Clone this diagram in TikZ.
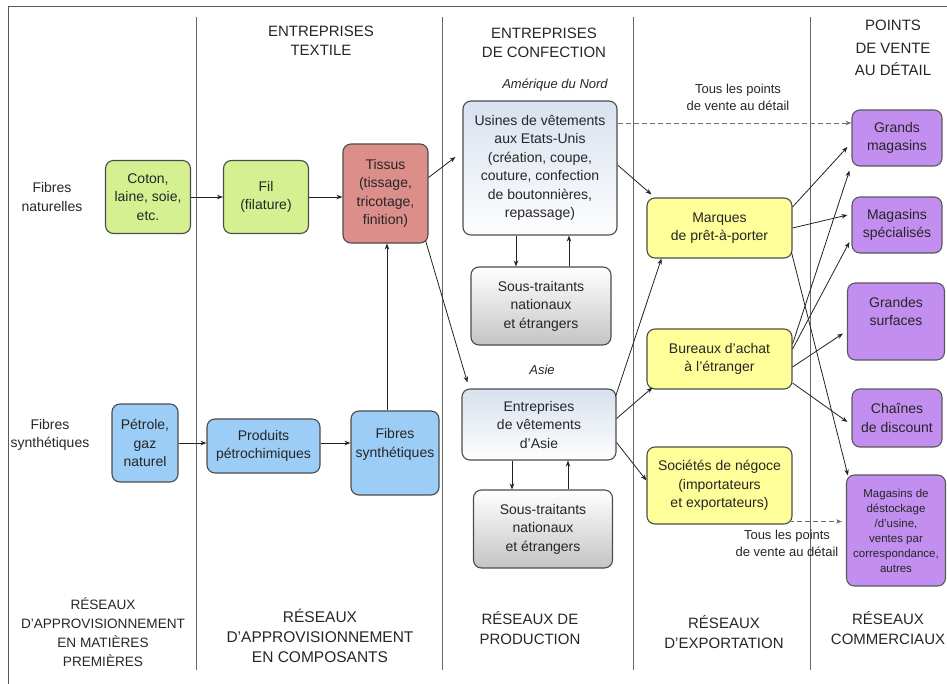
\documentclass[tikz,border=0pt]{standalone}
\usepackage{fontspec}
\setmainfont{Liberation Sans}
\usetikzlibrary{arrows.meta,calc}
\newcommand\myfs[2]{\fontsize{#1bp}{#2bp}\selectfont}
\definecolor{cgreen}{HTML}{D4F091}
\definecolor{cred}{HTML}{DC8E8A}
\definecolor{cblue}{HTML}{9CCDF7}
\definecolor{cpurple}{HTML}{C28FF0}
\definecolor{cyellow}{HTML}{FFFF99}
\definecolor{cgraybot}{HTML}{C4C4C4}
\definecolor{cbluetop}{HTML}{D8E1EE}
\definecolor{ctext}{HTML}{262626}
\definecolor{cline}{HTML}{222222}
\tikzset{
  box/.style={draw=black!70, line width=1.1bp, rounded corners=8bp, align=center,
    text=ctext, inner sep=2bp, font=\myfs{14}{18.5}},
  greenbox/.style={box, fill=cgreen},
  redbox/.style={box, fill=cred},
  bluebox/.style={box, fill=cblue},
  purplebox/.style={box, fill=cpurple, draw=black!65},
  yellowbox/.style={box, fill=cyellow},
  graybox/.style={box, top color=white, bottom color=cgraybot},
  factbox/.style={box, top color=cbluetop, bottom color=white!97!cbluetop},
  lbl/.style={align=center, text=ctext, inner sep=0pt, font=\myfs{14}{18.5}},
  hdr/.style={align=center, text=ctext, inner sep=0pt, font=\myfs{15}{19.5}},
  arr/.style={draw=cline, line width=0.8bp, -{Stealth[length=6bp,width=4.5bp]}},
  darr/.style={draw=black!55, line width=0.8bp, dashed, dash pattern=on 5bp off 3bp, -{Stealth[length=6bp,width=4.5bp]}},
  divider/.style={draw=black!60, line width=0.8bp}
}
\begin{document}
\begin{tikzpicture}[x=1bp,y=-1bp]
\useasboundingbox (0,0) rectangle (947,684);
% frame
\draw[draw=black!65, line width=1bp] (947,7) -- (8,7) -- (8,684);
% dividers
\foreach \xx in {196,442,633,810} \draw[divider] (\xx,17) -- (\xx,670);

% headers
\node[hdr] (h2) at (321,41) {ENTREPRISES\\TEXTILE};
\node[hdr] (h3) at (544,43) {ENTREPRISES\\DE CONFECTION};
\node[hdr, font=\myfs{15}{22.5}] (h5) at (893,48) {POINTS\\DE VENTE\\AU DÉTAIL};
\node[lbl, font=\itshape\myfs{13}{16}] (amn) at (555,85) {Amérique du Nord};
\node[lbl, font=\myfs{13}{17}] (tous1) at (738,97) {Tous les points\\de vente au détail};
\node[lbl, font=\itshape\myfs{13}{16}] (asielbl) at (542,370) {Asie};
\node[lbl, font=\myfs{13}{17}] (tous2) at (787,543) {Tous les points\\de vente au détail};

% side labels
\node[lbl] (fnat) at (52,197) {Fibres\\naturelles};
\node[lbl] (fsyn) at (50,435) {Fibres\\synthétiques};

% bottom labels
\node[hdr, font=\myfs{13.6}{19}] (b1) at (103,632) {RÉSEAUX\\D'APPROVISIONNEMENT\\EN MATIÈRES\\PREMIÈRES};
\node[hdr, font=\myfs{15.5}{20}] (b2) at (320,636) {RÉSEAUX\\D'APPROVISIONNEMENT\\EN COMPOSANTS};
\node[hdr] (b3) at (530,628) {RÉSEAUX DE\\PRODUCTION};
\node[hdr] (b4) at (724,632) {RÉSEAUX\\D'EXPORTATION};
\node[hdr] (b5) at (888,628) {RÉSEAUX\\COMMERCIAUX};

% boxes
\node[greenbox, minimum width=85bp, minimum height=73bp] (coton) at (148,197) {Coton,\\laine, soie,\\etc.};
\node[greenbox, minimum width=85bp, minimum height=73bp] (fil) at (266,197) {Fil\\(filature)};
\node[redbox, minimum width=85bp, minimum height=99bp] (tissus) at (385.5,193.5) {Tissus\\(tissage,\\tricotage,\\finition)};
\node[factbox, minimum width=154bp, minimum height=134bp] (usines) at (540,168) {Usines de vêtements\\aux Etats-Unis\\(création, coupe,\\couture, confection\\de boutonnières,\\repassage)};
\node[graybox, minimum width=140bp, minimum height=78bp] (st1) at (541,306) {Sous-traitants\\nationaux\\et étrangers};
\node[factbox, minimum width=154bp, minimum height=71bp] (asie) at (539,424.5) {Entreprises\\de vêtements\\d'Asie};
\node[graybox, minimum width=139bp, minimum height=78bp] (st2) at (543,529) {Sous-traitants\\nationaux\\et étrangers};
\node[yellowbox, minimum width=145bp, minimum height=60bp] (marques) at (719.5,228) {Marques\\de prêt-à-porter};
\node[yellowbox, minimum width=145bp, minimum height=60bp] (bureaux) at (719.5,359) {Bureaux d'achat\\à l'étranger};
\node[yellowbox, minimum width=145bp, minimum height=77bp] (societes) at (719.5,485.5) {Sociétés de négoce\\(importateurs\\et exportateurs)};
\node[purplebox, minimum width=90bp, minimum height=56bp] (grands) at (897,138) {Grands\\magasins};
\node[purplebox, minimum width=90bp, minimum height=56bp] (specialises) at (897,225) {Magasins\\spécialisés};
\node[purplebox, minimum width=97bp, minimum height=77bp] (surfaces) at (896,321.5) {Grandes\\surfaces\\[2bp]\mbox{}};
\node[purplebox, minimum width=90bp, minimum height=58bp] (discount) at (897,418) {Chaînes\\de discount};
\node[purplebox, minimum width=99bp, minimum height=111bp, font=\myfs{11.5}{15}] (destockage) at (896,530.5) {Magasins de\\déstockage\\/d'usine,\\ventes par\\correspondance,\\autres};
\node[bluebox, minimum width=66bp, minimum height=78bp] (petrole) at (145,443) {Pétrole,\\gaz\\naturel};
\node[bluebox, minimum width=113bp, minimum height=54bp] (produits) at (263.5,446) {Produits\\pétrochimiques};
\node[bluebox, minimum width=88bp, minimum height=84bp] (fsynth) at (395,453) {Fibres\\synthétiques\\[2bp]\mbox{}};

% connectors
\draw[arr] (coton.east) -- (fil.west);
\draw[arr] (fil.east) -- (fil.east -| tissus.west);
\draw[arr] ([yshift=16bp]tissus.east) -- ([xshift=-7bp,yshift=11bp]usines.west);
\draw[arr] ([xshift=-3bp,yshift=3bp]tissus.south east) -- ([xshift=6bp,yshift=6bp]asie.north west);
\draw[arr] ([xshift=1.5bp]tissus.south |- fsynth.north) -- ([xshift=1.5bp]tissus.south);
\draw[arr] (petrole.east) -- (petrole.east -| produits.west);
\draw[arr] ([yshift=3bp]produits.east) -- ([yshift=3bp]produits.east -| fsynth.west);

\draw[arr] ([xshift=-24bp]usines.south) -- ([xshift=-24bp]usines.south |- st1.north);
\draw[arr] ([xshift=28bp]st1.north) -- ([xshift=28bp]st1.north |- usines.south);
\draw[arr] ([xshift=-27bp]asie.south) -- ([xshift=-27bp]asie.south |- st2.north);
\draw[arr] ([xshift=29bp]asie.south |- st2.north) -- ([xshift=29bp]asie.south);

\draw[arr] ([yshift=3bp]usines.east) -- ([xshift=5bp,yshift=3bp]marques.north west);
\draw[darr] ([yshift=45bp]usines.east) -- ([yshift=45bp]usines.east -| grands.west);
\draw[arr] ([xshift=-1bp,yshift=-8bp]asie.north east) -- ([xshift=15bp]marques.south west);
\draw[arr] ([yshift=6bp]asie.east) -- ([xshift=6bp,yshift=2bp]bureaux.south west);
\draw[arr] ([yshift=-18bp]asie.east) -- ([yshift=5bp]societes.west);
\draw[darr] ([xshift=-4bp,yshift=-36bp]societes.east) -- ([xshift=-4bp,yshift=-36bp]societes.east -| destockage.west);

\draw[arr] ([yshift=21bp]marques.east) -- ([xshift=-4bp,yshift=-9bp]grands.west);
\draw[arr] (marques.east) -- ([xshift=-4bp,yshift=10bp]specialises.west);
\draw[arr] ([xshift=-1bp,yshift=6bp]marques.south east) -- ([xshift=2bp,yshift=-1bp]destockage.north west);

\draw[arr] ([yshift=15bp]bureaux.east) -- ([xshift=-2bp,yshift=-4bp]grands.south west);
\draw[arr] ([yshift=10bp]bureaux.east) -- ([xshift=-2bp,yshift=-17bp]specialises.west);
\draw[arr] ([yshift=-8bp]bureaux.east) -- ([xshift=-4bp,yshift=-12bp]surfaces.west);
\draw[arr] ([yshift=-24bp]bureaux.east) -- ([xshift=-4bp,yshift=-4bp]discount.west);
\end{tikzpicture}
\end{document}
